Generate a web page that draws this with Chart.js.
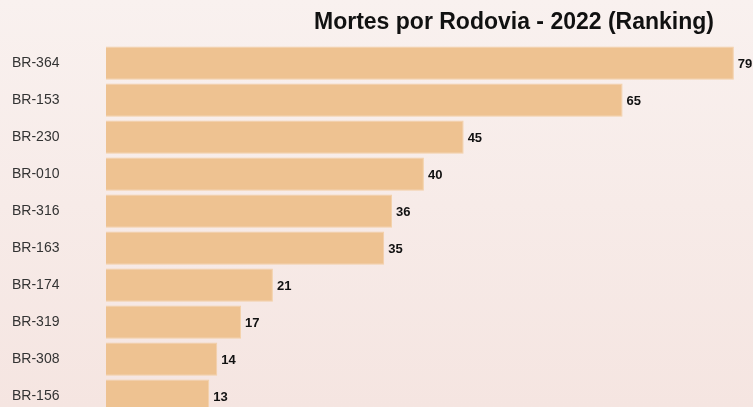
<!DOCTYPE html>
<html>
<head>
<meta charset="utf-8">
<script src="https://cdn.jsdelivr.net/npm/chart.js@4"></script>
<style>
  html, body { margin: 0; padding: 0; overflow: hidden; }
  body { width: 753px; height: 407px; background: linear-gradient(#f9f1ef, #f5e5e1); }
  #wrap { width: 753px; height: 407px; overflow: hidden; position: relative; }
  #chart { position: absolute; left: 0; top: 0; }
</style>
</head>
<body>
<div id="wrap">
  <canvas id="chart" width="1028" height="423"></canvas>
</div>
<script>
// rodovias e mortes (2022)
const rodovias = ["BR-364", "BR-153", "BR-230", "BR-010", "BR-316", "BR-163", "BR-174", "BR-319", "BR-308", "BR-156"];
const mortes = [79, 65, 45, 40, 36, 35, 21, 17, 14, 13];
const titulo = "Mortes por Rodovia - 2022 (Ranking)";

// escreve o valor no fim de cada barra
const valorNasBarras = {
  id: "valorNasBarras",
  afterDatasetsDraw(chart) {
    const ctx = chart.ctx;
    const meta = chart.getDatasetMeta(0);
    ctx.save();
    ctx.font = "bold 13px 'Liberation Sans', Arial, sans-serif";
    ctx.fillStyle = "#111";
    ctx.textBaseline = "middle";
    ctx.textAlign = "left";
    meta.data.forEach(function (bar, i) {
      ctx.fillText(mortes[i], bar.x + 4, bar.y + 1);
    });
    ctx.restore();
  }
};

const ctx = document.getElementById("chart").getContext("2d");

new Chart(ctx, {
  type: "bar",
  data: {
    labels: rodovias,
    datasets: [
      {
        data: mortes,
        backgroundColor: "#eec291",
        borderColor: "#f3d0a8",
        borderWidth: 1,
        barPercentage: 0.9,
        categoryPercentage: 1.0,
      },
    ],
  },
  options: {
    indexAxis: "y",
    responsive: false,
    animation: false,
    layout: { padding: { left: 12, right: 12, top: 0, bottom: 0 } },
    plugins: {
      legend: { display: false },
      tooltip: { enabled: false },
      title: {
        display: true,
        text: titulo,
        color: "#111",
        font: { family: "'Liberation Sans', Arial, sans-serif", size: 23, weight: "bold" },
        padding: { top: 9, bottom: 8 },
      },
    },
    scales: {
      x: {
        display: false,
        min: 0,
        max: 114.5,
      },
      y: {
        grid: { display: false, drawTicks: false },
        border: { display: false },
        afterFit: function (scale) { scale.width = 94; },
        ticks: {
          crossAlign: "far",
          color: "#333",
          padding: 0,
          font: { family: "'Liberation Sans', Arial, sans-serif", size: 14 },
        },
      },
    },
  },
  plugins: [valorNasBarras],
});
</script>
</body>
</html>
